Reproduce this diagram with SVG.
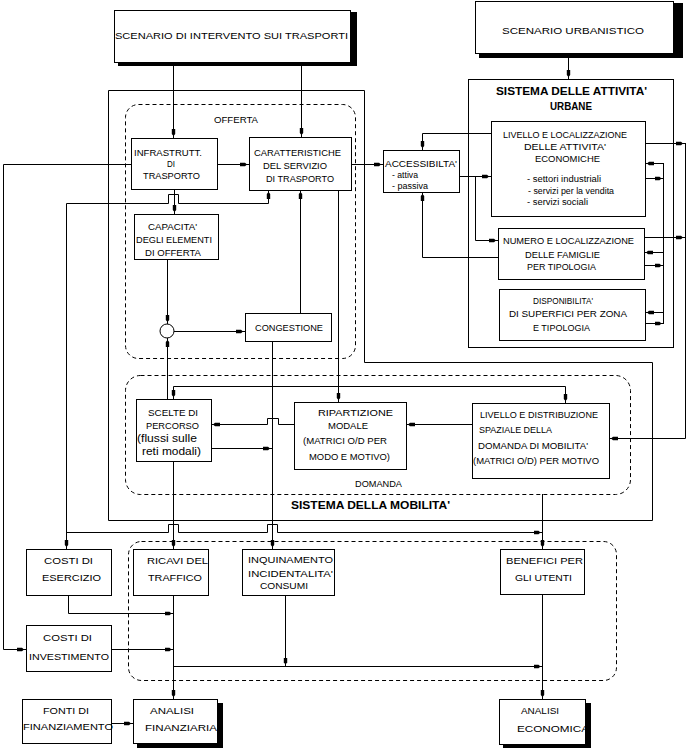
<svg xmlns="http://www.w3.org/2000/svg" width="688" height="749" viewBox="0 0 688 749">
<style>
.bx{fill:#fff;stroke:#000;stroke-width:1}
.sh{fill:#000;stroke:none}
.ln{fill:none;stroke:#000;stroke-width:1}
.ar{marker-end:url(#ah)}
.ds{fill:none;stroke:#000;stroke-width:1;stroke-dasharray:4,3}
text{font-family:"Liberation Sans",Arial,sans-serif;font-size:9.5px;fill:#000}
.sm{font-size:8.5px}
.lg{font-size:11px}
.b{font-weight:bold;font-size:11px}
</style>
<defs>
<marker id="ah" viewBox="0 0 9 5" refX="9" refY="2.5" markerWidth="9" markerHeight="5" markerUnits="userSpaceOnUse" orient="auto">
<path d="M0,0.8 H5 L7,2.5 L5,4.2 H0 Z" fill="#000"/>
</marker>
</defs>
<rect width="688" height="749" fill="#fff"/>

<g id="containers">
<path class="ln" d="M108.5,90.5 H364.5 V362.5 H652.5 V520.5 H108.5 Z"/>
<rect class="ds" x="125.5" y="104.5" width="230" height="254" rx="13"/>
<rect class="ds" x="125.5" y="375.5" width="505" height="119" rx="15"/>
<rect class="ds" x="128.5" y="541.5" width="488" height="139" rx="13"/>
<text x="214" y="122.5" textLength="44" lengthAdjust="spacingAndGlyphs">OFFERTA</text>
<text x="355" y="487" textLength="47" lengthAdjust="spacingAndGlyphs">DOMANDA</text>
<text class="b" x="291" y="509" textLength="159" lengthAdjust="spacingAndGlyphs">SISTEMA DELLA MOBILITA'</text>
</g>

<g id="scenario-trasporti">
<rect class="sh" x="118" y="12" width="239" height="54"/>
<rect class="bx" x="114.5" y="10.5" width="236" height="52"/>
<text x="115" y="39" textLength="233" lengthAdjust="spacingAndGlyphs">SCENARIO DI INTERVENTO SUI TRASPORTI</text>
</g>

<g id="scenario-urbanistico">
<rect class="sh" x="479" y="3" width="204" height="55"/>
<rect class="bx" x="475.5" y="1.5" width="198" height="52"/>
<text x="502" y="33.5" textLength="142" lengthAdjust="spacingAndGlyphs">SCENARIO URBANISTICO</text>
</g>

<g id="sistema-attivita">
<rect x="468.5" y="79.5" width="205" height="268" fill="none" stroke="#000"/>
<text class="b" x="496" y="94.5" textLength="151" lengthAdjust="spacingAndGlyphs">SISTEMA DELLE ATTIVITA'</text>
<text class="b" x="550" y="109.5" textLength="42" lengthAdjust="spacingAndGlyphs">URBANE</text>
</g>

<g id="infrastrutture">
<rect class="bx" x="131.5" y="138.5" width="86" height="51"/>
<text x="134" y="155.5" textLength="68" lengthAdjust="spacingAndGlyphs">INFRASTRUTT.</text>
<text x="167" y="166.5" textLength="8" lengthAdjust="spacingAndGlyphs">DI</text>
<text x="143" y="178.5" textLength="57" lengthAdjust="spacingAndGlyphs">TRASPORTO</text>
</g>

<g id="caratteristiche">
<rect class="bx" x="249.5" y="137.5" width="102" height="53"/>
<text x="254" y="156" textLength="87" lengthAdjust="spacingAndGlyphs">CARATTERISTICHE</text>
<text x="263" y="169" textLength="64" lengthAdjust="spacingAndGlyphs">DEL SERVIZIO</text>
<text x="266" y="182" textLength="68" lengthAdjust="spacingAndGlyphs">DI TRASPORTO</text>
</g>

<g id="capacita">
<rect class="bx" x="134.5" y="214.5" width="84" height="45"/>
<text x="148" y="230" textLength="49" lengthAdjust="spacingAndGlyphs">CAPACITA'</text>
<text x="136" y="243" textLength="76" lengthAdjust="spacingAndGlyphs">DEGLI ELEMENTI</text>
<text x="145" y="256" textLength="56" lengthAdjust="spacingAndGlyphs">DI OFFERTA</text>
</g>

<g id="nodo">
<circle class="bx" cx="167" cy="331" r="7"/>
</g>

<g id="congestione">
<rect class="bx" x="245.5" y="313.5" width="86" height="28"/>
<text x="255" y="330.5" textLength="68" lengthAdjust="spacingAndGlyphs">CONGESTIONE</text>
</g>

<g id="accessibilita">
<rect class="bx" x="383.5" y="150.5" width="76" height="42"/>
<text x="385" y="167" textLength="72" lengthAdjust="spacingAndGlyphs">ACCESSIBILTA'</text>
<text class="sm" x="392" y="178" textLength="26" lengthAdjust="spacingAndGlyphs">- attiva</text>
<text class="sm" x="392" y="189" textLength="36" lengthAdjust="spacingAndGlyphs">- passiva</text>
</g>

<g id="attivita-economiche">
<rect class="bx" x="491.5" y="121.5" width="154" height="95"/>
<text x="503" y="137.5" textLength="124" lengthAdjust="spacingAndGlyphs">LIVELLO E LOCALIZZAZIONE</text>
<text x="524" y="150" textLength="82" lengthAdjust="spacingAndGlyphs">DELLE ATTIVITA'</text>
<text x="535" y="161.5" textLength="65" lengthAdjust="spacingAndGlyphs">ECONOMICHE</text>
<text class="sm" x="527" y="182" textLength="74" lengthAdjust="spacingAndGlyphs">- settori industriali</text>
<text class="sm" x="528" y="193.5" textLength="86" lengthAdjust="spacingAndGlyphs">- servizi per la vendita</text>
<text class="sm" x="527" y="204.5" textLength="61" lengthAdjust="spacingAndGlyphs">- servizi sociali</text>
</g>

<g id="famiglie">
<rect class="bx" x="498.5" y="228.5" width="146" height="51"/>
<text x="503" y="243.5" textLength="131" lengthAdjust="spacingAndGlyphs">NUMERO E LOCALIZZAZIONE</text>
<text x="525" y="258" textLength="75" lengthAdjust="spacingAndGlyphs">DELLE FAMIGLIE</text>
<text x="527" y="269.5" textLength="69" lengthAdjust="spacingAndGlyphs">PER TIPOLOGIA</text>
</g>

<g id="superfici">
<rect class="bx" x="499.5" y="289.5" width="146" height="51"/>
<text x="533" y="303.5" textLength="60" lengthAdjust="spacingAndGlyphs">DISPONIBILITA'</text>
<text x="509" y="317" textLength="118" lengthAdjust="spacingAndGlyphs">DI SUPERFICI PER ZONA</text>
<text x="533" y="330.5" textLength="57" lengthAdjust="spacingAndGlyphs">E TIPOLOGIA</text>
</g>

<g id="scelte-percorso">
<rect class="bx" x="136.5" y="399.5" width="75" height="62"/>
<text x="148" y="416" textLength="50" lengthAdjust="spacingAndGlyphs">SCELTE DI</text>
<text x="146" y="429" textLength="53" lengthAdjust="spacingAndGlyphs">PERCORSO</text>
<text class="lg" x="137" y="442" textLength="60" lengthAdjust="spacingAndGlyphs">(flussi sulle</text>
<text class="lg" x="142" y="455" textLength="59" lengthAdjust="spacingAndGlyphs">reti modali)</text>
</g>

<g id="ripartizione">
<rect class="bx" x="294.5" y="402.5" width="112" height="67"/>
<text x="318" y="415.5" textLength="75" lengthAdjust="spacingAndGlyphs">RIPARTIZIONE</text>
<text x="328" y="428.5" textLength="40" lengthAdjust="spacingAndGlyphs">MODALE</text>
<text x="303" y="444" textLength="84" lengthAdjust="spacingAndGlyphs">(MATRICI O/D PER</text>
<text x="309" y="460" textLength="81" lengthAdjust="spacingAndGlyphs">MODO E MOTIVO)</text>
</g>

<g id="domanda-mobilita">
<rect class="bx" x="472.5" y="403.5" width="137" height="75"/>
<text x="480" y="417.5" textLength="118" lengthAdjust="spacingAndGlyphs">LIVELLO E DISTRIBUZIONE</text>
<text x="479" y="432.5" textLength="73" lengthAdjust="spacingAndGlyphs">SPAZIALE DELLA</text>
<text x="478" y="448.5" textLength="110" lengthAdjust="spacingAndGlyphs">DOMANDA DI MOBILITA'</text>
<text x="473" y="463.5" textLength="126" lengthAdjust="spacingAndGlyphs">(MATRICI O/D) PER MOTIVO</text>
</g>

<g id="costi-esercizio">
<rect class="bx" x="26.5" y="549.5" width="85" height="46"/>
<text x="44" y="564" textLength="49" lengthAdjust="spacingAndGlyphs">COSTI DI</text>
<text x="42" y="580.5" textLength="59" lengthAdjust="spacingAndGlyphs">ESERCIZIO</text>
</g>

<g id="ricavi">
<rect class="bx" x="133.5" y="549.5" width="75" height="46"/>
<text x="147" y="564" textLength="61" lengthAdjust="spacingAndGlyphs">RICAVI DEL</text>
<text x="148" y="580.5" textLength="54" lengthAdjust="spacingAndGlyphs">TRAFFICO</text>
</g>

<g id="inquinamento">
<rect class="bx" x="242.5" y="549.5" width="92" height="46"/>
<text x="248" y="563" textLength="85" lengthAdjust="spacingAndGlyphs">INQUINAMENTO</text>
<text x="248" y="577" textLength="85" lengthAdjust="spacingAndGlyphs">INCIDENTALITA'</text>
<text x="260" y="588.5" textLength="48" lengthAdjust="spacingAndGlyphs">CONSUMI</text>
</g>

<g id="benefici">
<rect class="bx" x="500.5" y="549.5" width="84" height="45"/>
<text x="506" y="564" textLength="77" lengthAdjust="spacingAndGlyphs">BENEFICI PER</text>
<text x="515" y="580.5" textLength="57" lengthAdjust="spacingAndGlyphs">GLI UTENTI</text>
</g>

<g id="costi-investimento">
<rect class="bx" x="26.5" y="625.5" width="85" height="46"/>
<text x="43" y="641" textLength="49" lengthAdjust="spacingAndGlyphs">COSTI DI</text>
<text x="29" y="660" textLength="80" lengthAdjust="spacingAndGlyphs">INVESTIMENTO</text>
</g>

<g id="fonti">
<rect class="bx" x="22.5" y="699.5" width="89" height="44"/>
<text x="43" y="713.5" textLength="46" lengthAdjust="spacingAndGlyphs">FONTI DI</text>
<text x="23" y="729.5" textLength="90" lengthAdjust="spacingAndGlyphs">FINANZIAMENTO</text>
</g>

<g id="analisi-finanziaria">
<rect class="sh" x="137" y="703" width="86" height="45"/>
<rect class="bx" x="133.5" y="699.5" width="84" height="44"/>
<text x="150" y="713.5" textLength="44" lengthAdjust="spacingAndGlyphs">ANALISI</text>
<text x="145" y="731" textLength="72" lengthAdjust="spacingAndGlyphs">FINANZIARIA</text>
</g>

<g id="analisi-economica">
<rect class="sh" x="503" y="703" width="88" height="45"/>
<rect class="bx" x="499.5" y="699.5" width="86" height="45"/>
<text x="521" y="714" textLength="38" lengthAdjust="spacingAndGlyphs">ANALISI</text>
<text x="517" y="732" textLength="72" lengthAdjust="spacingAndGlyphs">ECONOMICA</text>
</g>

<g id="connectors">
<path class="ln ar" d="M173.5,62 V138"/>
<path class="ln ar" d="M301.5,62 V137"/>
<path class="ln ar" d="M568.5,53 V79"/>
<path class="ln ar" d="M217,164.5 H249"/>
<path class="ln ar" d="M131,164.5 H3.5 V649.5 H26"/>
<path class="ln ar" d="M174.5,189 V214"/>
<path class="ln ar" d="M66.5,203.5 V549"/>
<path class="ln ar" d="M66.5,203.5 H168.5 V194.5 H178.5 V203.5 H268.5 V190"/>
<path class="ln ar" d="M167.5,259 V324"/>
<path class="ln ar" d="M174,331.5 H245"/>
<path class="ln ar" d="M167.5,399 V338"/>
<path class="ln ar" d="M300.5,313 V190"/>
<path class="ln ar" d="M338.5,190 V402"/>
<path class="ln ar" d="M272.5,341 V549"/>
<path class="ln ar" d="M211,448.5 H272"/>
<path class="ln ar" d="M294,424.5 H278.5 V418.5 H267.5 V424.5 H211"/>
<path class="ln ar" d="M472,424.5 H406"/>
<path class="ln ar" d="M173.5,386.5 V399"/>
<path class="ln ar" d="M173.5,386.5 H565.5 V403"/>
<path class="ln ar" d="M645,143.5 H685"/>
<path class="ln ar" d="M644,237.5 H685"/>
<path class="ln ar" d="M685.5,143 V438.5 H609"/>
<path class="ln ar" d="M351,164.5 H383"/>
<path class="ln ar" d="M459,176.5 H491"/>
<path class="ln ar" d="M475.5,176.5 V240.5 H498"/>
<path class="ln ar" d="M491,133.5 H422.5 V150"/>
<path class="ln ar" d="M498,257.5 H422.5 V192"/>
<path class="ln" d="M663.5,163 V324"/>
<path class="ln ar" d="M663.5,163.5 H645"/>
<path class="ln ar" d="M645,178.5 H663.5"/>
<path class="ln ar" d="M663.5,252.5 H644"/>
<path class="ln ar" d="M644,265.5 H663.5"/>
<path class="ln ar" d="M663.5,312.5 H645"/>
<path class="ln ar" d="M645,323.5 H663.5"/>
<path class="ln ar" d="M173.5,461 V549"/>
<path class="ln ar" d="M542.5,494 V549"/>
<path class="ln ar" d="M66.5,532.5 H168.5 V524.5 H178.5 V532.5 H267.5 V524.5 H277.5 V532.5 H542.5"/>
<path class="ln ar" d="M68.5,595 V613.5 H173.5"/>
<path class="ln ar" d="M111,649.5 H173.5"/>
<path class="ln ar" d="M173.5,595 V699"/>
<path class="ln ar" d="M285.5,595 V666.5"/>
<path class="ln ar" d="M173.5,666.5 H542.5"/>
<path class="ln ar" d="M542.5,594 V699"/>
<path class="ln ar" d="M111,723.5 H133"/>
</g>
</svg>
